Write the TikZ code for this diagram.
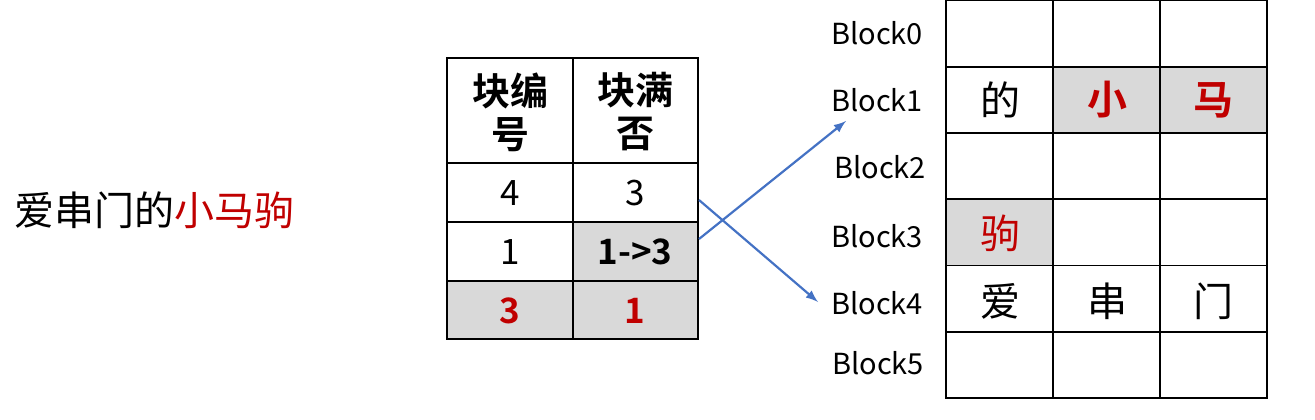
\documentclass[tikz,border=0pt]{standalone}
\usepackage{fontspec}
\setmainfont{Noto Sans CJK SC}[BoldFont={Noto Sans CJK SC Bold}]
\definecolor{cellgray}{RGB}{217,217,217}
\definecolor{hired}{RGB}{192,0,0}
\definecolor{arrowblue}{RGB}{68,114,196}

\begin{document}
\begin{tikzpicture}[x=0.5pt,y=-0.5pt,line width=0.8pt,
  big/.style={font=\fontsize{20}{24}\selectfont},
  head/.style={font=\fontsize{19}{21.5}\selectfont\bfseries,align=center},
  num/.style={font=\fontsize{17.5}{20}\selectfont},
  blk/.style={font=\fontsize{14.5}{17}\selectfont}]
\useasboundingbox (0,0) rectangle (1315,419);

% Draw the sentence
\node[big] (title) at (154,210) {爱串门的\textcolor{hired}{小马驹}};

% Draw gray cells
\fill[cellgray] (573,222) rectangle (698,281);
\fill[cellgray] (447,281) rectangle (698,339);
\fill[cellgray] (1053,66.75) rectangle (1267,133);
\fill[cellgray] (946,199.25) rectangle (1053,265.5);

% Draw table lines
\draw (447,58) rectangle (698,339);
\draw (573,58) -- (573,339);
\foreach \y in {163,222,281} \draw (447,\y) -- (698,\y);

% Draw table entries
\node[head] (h1) at (510,112) {块编\\号};
\node[head] (h2) at (635,112) {块满\\否};
\node[num] (n41) at (510,193) {4};
\node[num] (n42) at (635,193) {3};
\node[num] (n11) at (510,252) {1};
\node[num] (n12) at (635,252) {\bfseries 1->3};
\node[num,text=hired] (n31) at (510,311) {\bfseries 3};
\node[num,text=hired] (n32) at (635,311) {\bfseries 1};

% Draw block grid
\draw (946,0.5) rectangle (1267,398);
\foreach \x in {1053,1160} \draw (\x,0.5) -- (\x,398);
\foreach \i in {1,...,5} \draw (946,0.5+66.25*\i) -- (1267,0.5+66.25*\i);

% Draw block labels
\foreach \i/\x/\y in {0/877/33,1/877/100,2/880/167,3/877/236,4/877/303,5/878/363}
  \node[blk] (blk\i) at (\x,\y) {Block\i};

% Draw characters in the blocks
\node[big] (c11) at (1000,100) {的};
\node[big,text=hired] (c12) at (1107,100) {\bfseries 小};
\node[big,text=hired] (c13) at (1213,100) {\bfseries 马};
\node[big,text=hired] (c31) at (1000,233) {驹};
\node[big] (c41) at (1000,301) {爱};
\node[big] (c42) at (1107,301) {串};
\node[big] (c43) at (1213,301) {门};

% Draw arrows from the table to the blocks
\coordinate (s4) at (699,200);
\coordinate (s1) at (699,239);
\coordinate (e4) at (818,302);
\coordinate (e1) at (846,121);
\draw[-latex,arrowblue,line width=1.1pt] (s4) -- (e4);
\draw[-latex,arrowblue,line width=1.1pt] (s1) -- (e1);

\end{tikzpicture}
\end{document}
